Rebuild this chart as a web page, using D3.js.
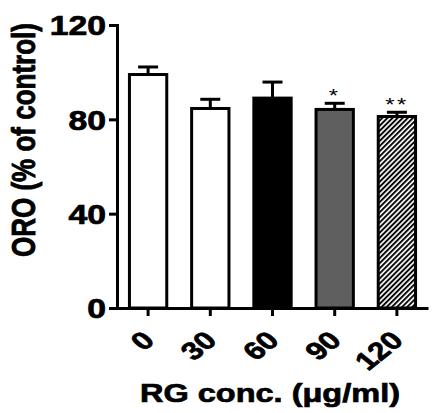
<!DOCTYPE html>
<html>
<head>
<meta charset="utf-8">
<script src="https://cdn.jsdelivr.net/npm/d3@7/dist/d3.min.js"></script>
<style>
  body { margin: 0; background: #fff; }
  svg { display: block; }
  .axis path, .axis line { stroke: #000; stroke-width: 3px; }
  text { font-family: Arial, "Liberation Sans", sans-serif; font-weight: bold; fill: #000; }
  .heavy { stroke: #000; stroke-width: 0.7px; }
</style>
</head>
<body>
<svg id="chart" width="433" height="413"></svg>
<script>
// data
let doses = ["0", "30", "60", "90", "120"];
let means = [99, 84.6, 89, 84.2, 81.2];
let sems  = [3.2, 3.9, 6.8, 2.6, 1.8];
let signif = ["", "", "", "*", "**"];
let yTicks = [0, 40, 80, 120];

let fills = ["#ffffff", "#ffffff", "#000000", "#5f5f5f", "url(#hatch)"];
let stretch = 1.25;   // the original figure is squeezed wider than tall

let chart = d3.select("#chart");

// hatch for the last bar
let defs = chart.append("defs");
let pat = defs.append("pattern")
    .attr("id", "hatch")
    .attr("patternUnits", "userSpaceOnUse")
    .attr("width", 3.6)
    .attr("height", 3.6)
    .attr("patternTransform", "rotate(45)");
pat.append("rect").attr("width", 3.6).attr("height", 3.6).attr("fill", "#fff");
pat.append("line")
    .attr("x1", 1).attr("y1", 0).attr("x2", 1).attr("y2", 3.6)
    .attr("stroke", "#000").attr("stroke-width", 1.9);

let x = d3.scaleBand()
    .domain(doses)
    .range([117, 428])
    .paddingInner(0.4)
    .paddingOuter(0.2);

let y = d3.scaleLinear()
    .domain([0, 120])
    .range([308, 25]);

// bars
chart.selectAll(".bar")
    .data(means)
    .enter()
    .append("rect")
    .attr("class", "bar")
    .attr("x", function(d, i) { return x(doses[i]); })
    .attr("y", function(d) { return y(d); })
    .attr("width", x.bandwidth())
    .attr("height", function(d) { return y(0) - y(d); })
    .attr("fill", function(d, i) { return fills[i]; })
    .attr("stroke", "#000")
    .attr("stroke-width", 3);

// error bars (upper only)
let cx = function(i) { return x(doses[i]) + x.bandwidth() / 2; };
chart.selectAll(".err")
    .data(means)
    .enter()
    .append("line")
    .attr("x1", function(d, i) { return cx(i); })
    .attr("x2", function(d, i) { return cx(i); })
    .attr("y1", function(d) { return y(d); })
    .attr("y2", function(d, i) { return y(d + sems[i]); })
    .attr("stroke", "#000")
    .attr("stroke-width", 3);
chart.selectAll(".cap")
    .data(means)
    .enter()
    .append("line")
    .attr("x1", function(d, i) { return cx(i) - 10; })
    .attr("x2", function(d, i) { return cx(i) + 10; })
    .attr("y1", function(d, i) { return y(d + sems[i]); })
    .attr("y2", function(d, i) { return y(d + sems[i]); })
    .attr("stroke", "#000")
    .attr("stroke-width", 3);

// significance stars
chart.selectAll(".star")
    .data(means)
    .enter()
    .append("text")
    .attr("transform", function(d, i) {
        return "translate(" + cx(i) + "," + (y(d + sems[i]) - 1) + ") scale(" + stretch + ",1)";
    })
    .attr("text-anchor", "middle")
    .style("font-size", "19px")
    .style("font-weight", "normal")
    .style("letter-spacing", "2px")
    .text(function(d, i) { return signif[i]; });

// y axis
let yAxis = d3.axisLeft(y)
    .tickValues(yTicks)
    .tickSize(8)
    .tickSizeOuter(0);
let yAxisGroup = chart.append("g")
    .attr("class", "axis")
    .attr("transform", "translate(117,0)")
    .call(yAxis);
yAxisGroup.selectAll("text")
    .attr("class", "heavy")
    .attr("x", null)
    .attr("dy", "0.36em")
    .attr("transform", "translate(-11,0) scale(" + stretch + ",1)")
    .style("font-size", "27px")
    .style("font-family", "Arial, 'Liberation Sans', sans-serif");

// x axis
let xAxis = d3.axisBottom(x)
    .tickSize(8)
    .tickSizeOuter(0);
let xAxisGroup = chart.append("g")
    .attr("class", "axis")
    .attr("transform", "translate(0,308)")
    .call(xAxis);
xAxisGroup.selectAll("text")
    .attr("class", "heavy")
    .attr("y", 0)
    .attr("dy", 0)
    .attr("text-anchor", "end")
    .attr("transform", "translate(8,34) scale(" + stretch + ",1) rotate(-45)")
    .style("font-size", "25px")
    .style("font-family", "Arial, 'Liberation Sans', sans-serif");
yAxisGroup.select(".domain").attr("stroke-linecap", "square");

// axis titles
chart.append("text")
    .attr("class", "heavy")
    .attr("transform", "translate(35,140) scale(" + stretch + ",1) rotate(-90)")
    .attr("text-anchor", "middle")
    .style("font-size", "26px")
    .text("ORO (% of control)");

chart.append("text")
    .attr("class", "heavy")
    .attr("transform", "translate(270,402) scale(" + stretch + ",1)")
    .attr("text-anchor", "middle")
    .style("font-size", "26px")
    .text("RG conc. (μg/ml)");
</script>
</body>
</html>
